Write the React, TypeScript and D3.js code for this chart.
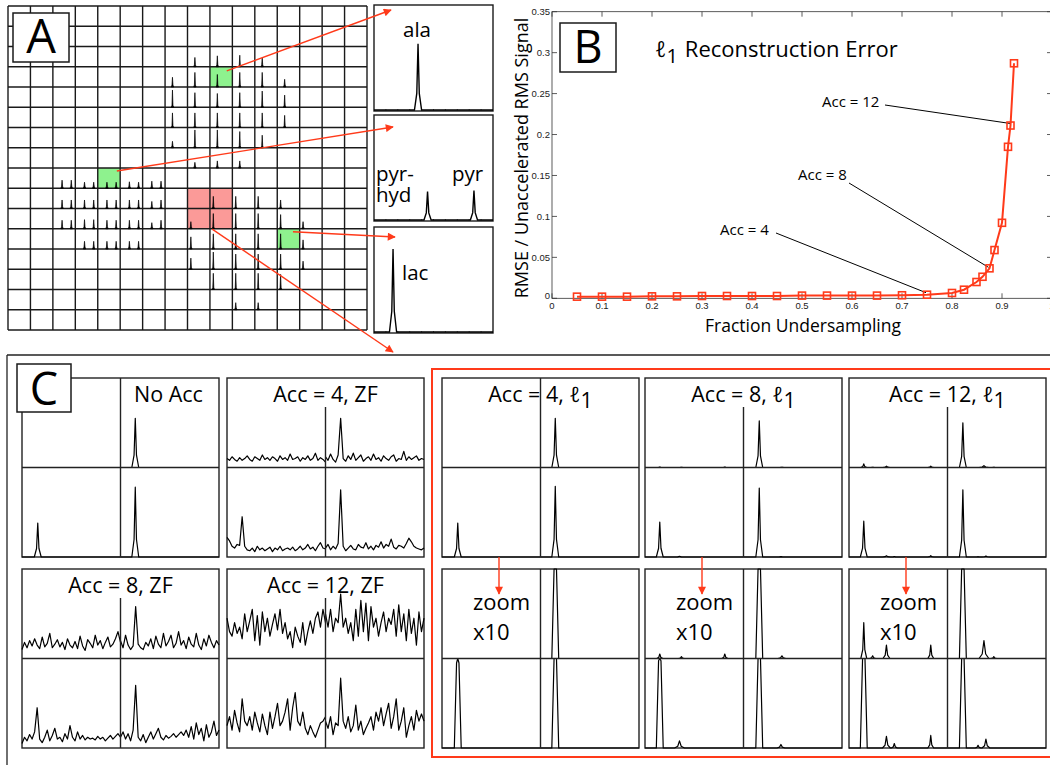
import React from 'react';
import * as d3 from 'd3';

const FONT = '"Open Sans", Lato, "DejaVu Sans", sans-serif';
const RED = '#ff3a1a';

// ---------- panel A: 16x16 voxel grid ----------
const gridN = 16;
const greenVoxels = [[9, 3], [4, 8], [12, 11]]; // [col, row]
const redVoxels = [[8, 9], [9, 9], [8, 10], [9, 10]];
// peak position inside a voxel (fraction of voxel width)
const alaPos = 0.33;
const pyrHydPos = 0.41;
const pyrPos = 0.82;
const lacPos = 0.15;
// [col, row, height]
const alaVoxels = [
  [8, 2, 0.46], [9, 2, 0.54], [10, 2, 0.57], [11, 2, 0.43],
  [7, 3, 0.48], [8, 3, 0.72], [9, 3, 0.62], [10, 3, 0.72], [11, 3, 0.72], [12, 3, 0.38],
  [7, 4, 0.85], [8, 4, 0.72], [9, 4, 0.68], [10, 4, 0.72], [11, 4, 0.8], [12, 4, 0.6],
  [7, 5, 0.72], [8, 5, 0.72], [9, 5, 0.72], [10, 5, 0.72], [11, 5, 0.72], [12, 5, 0.6],
  [7, 6, 0.32], [8, 6, 0.88], [9, 6, 0.88], [10, 6, 0.8], [11, 6, 0.62],
  [8, 7, 0.28], [9, 7, 0.35], [10, 7, 0.35],
];
// [col, row, pyr-hyd height, pyr height]
const pyrVoxels = [
  [2, 8, 0.4, 0.4], [3, 8, 0.3, 0.3], [4, 8, 0.3, 0.3], [5, 8, 0.32, 0.3], [6, 8, 0.35, 0.35],
  [2, 9, 0.42, 0.42], [3, 9, 0.42, 0.42], [4, 9, 0.42, 0.42], [5, 9, 0.42, 0.42], [6, 9, 0.35, 0.42],
  [2, 10, 0.42, 0.42], [3, 10, 0.45, 0.45], [4, 10, 0.42, 0.42], [5, 10, 0.42, 0.42], [6, 10, 0.3, 0.42],
  [3, 11, 0.38, 0.38], [4, 11, 0.38, 0.38], [5, 11, 0.38, 0.38],
];
const lacVoxels = [
  [9, 9, 0.6], [10, 9, 0.6], [11, 9, 0.6], [12, 9, 0.42],
  [8, 10, 0.35], [9, 10, 0.75], [10, 10, 0.75], [11, 10, 0.75], [12, 10, 0.7], [13, 10, 0.35],
  [8, 11, 0.6], [9, 11, 0.75], [10, 11, 0.75], [11, 11, 0.75], [12, 11, 0.75], [13, 11, 0.45],
  [8, 12, 0.55], [9, 12, 0.85], [10, 12, 0.75], [11, 12, 0.75], [12, 12, 0.75], [13, 12, 0.4],
  [9, 13, 0.8], [10, 13, 0.8], [11, 13, 0.8], [12, 13, 0.75],
  [10, 14, 0.35], [11, 14, 0.35],
];
// inset spectra: [position, height, half width]
const alaSpectrum = [[0.37, 0.63, 0.03]];
const pyrSpectrum = [[0.45, 0.27, 0.03], [0.84, 0.28, 0.03]];
const lacSpectrum = [[0.16, 0.79, 0.03]];

// ---------- panel B: l1 reconstruction error ----------
const fractionUndersampling = [
  0.05, 0.1, 0.15, 0.2, 0.25, 0.3, 0.35, 0.4, 0.45, 0.5, 0.55, 0.6, 0.65, 0.7, 0.75,
  0.8, 0.824, 0.849, 0.861, 0.875, 0.885, 0.9, 0.912, 0.917, 0.924,
];
const rmseRatio = [
  0.002, 0.002, 0.002, 0.0024, 0.0024, 0.0028, 0.0028, 0.0028, 0.0028, 0.0033, 0.0033,
  0.0033, 0.0033, 0.0037, 0.0044, 0.0065, 0.0105, 0.0199, 0.0263, 0.0366, 0.0589, 0.0922,
  0.185, 0.211, 0.287,
];
const xTickValues = [0, 0.1, 0.2, 0.3, 0.4, 0.5, 0.6, 0.7, 0.8, 0.9, 1];
const yTickValues = [0, 0.05, 0.1, 0.15, 0.2, 0.25, 0.3, 0.35];
const annotations = [
  { label: 'Acc = 4', point: 14 },
  { label: 'Acc = 8', point: 19 },
  { label: 'Acc = 12', point: 23 },
];

// ---------- panel C: spectra of 4 voxels (TL, TR, BL, BR) ----------
const noAccPeaks = [[], [[0.15, 0.55, 0.035]], [[0.16, 0.38, 0.035]], [[0.15, 0.78, 0.035]]];
const zfAcc4 = [
  [0.10, 0.08, 0.12, 0.09, 0.07, 0.11, 0.08, 0.10, 0.13, 0.09, 0.07, 0.12, 0.10, 0.08, 0.14, 0.09, 0.11, 0.08, 0.12, 0.10, 0.07, 0.13, 0.09, 0.11, 0.08, 0.15, 0.09, 0.10, 0.12, 0.07, 0.11, 0.09, 0.13, 0.08, 0.10, 0.16, 0.08, 0.11, 0.09, 0.06],
  [0.12, 0.08, 0.15, 0.09, 0.06, 0.14, 0.55, 0.10, 0.07, 0.13, 0.09, 0.16, 0.08, 0.11, 0.14, 0.07, 0.10, 0.12, 0.08, 0.15, 0.09, 0.11, 0.07, 0.13, 0.10, 0.08, 0.12, 0.14, 0.07, 0.10, 0.09, 0.18, 0.08, 0.12, 0.09, 0.11, 0.13, 0.08, 0.10, 0.09],
  [0.22, 0.18, 0.12, 0.10, 0.14, 0.13, 0.45, 0.12, 0.08, 0.07, 0.10, 0.06, 0.12, 0.08, 0.10, 0.07, 0.09, 0.11, 0.06, 0.10, 0.08, 0.12, 0.07, 0.09, 0.10, 0.08, 0.11, 0.07, 0.09, 0.12, 0.08, 0.10, 0.14, 0.09, 0.11, 0.07, 0.12, 0.16, 0.10, 0.09],
  [0.10, 0.14, 0.08, 0.12, 0.09, 0.15, 0.75, 0.12, 0.07, 0.10, 0.13, 0.09, 0.08, 0.14, 0.11, 0.10, 0.16, 0.09, 0.12, 0.08, 0.13, 0.11, 0.17, 0.10, 0.14, 0.12, 0.20, 0.11, 0.09, 0.13, 0.12, 0.10, 0.15, 0.21, 0.17, 0.12, 0.10, 0.09, 0.08, 0.10],
];
const zfAcc8 = [
  [0.10, 0.18, 0.12, 0.20, 0.14, 0.22, 0.15, 0.11, 0.24, 0.13, 0.17, 0.28, 0.12, 0.16, 0.21, 0.13, 0.18, 0.10, 0.22, 0.15, 0.12, 0.19, 0.11, 0.25, 0.14, 0.09, 0.21, 0.17, 0.12, 0.26, 0.15, 0.20, 0.11, 0.18, 0.24, 0.13, 0.16, 0.22, 0.30, 0.18],
  [0.20, 0.12, 0.26, 0.15, 0.10, 0.14, 0.58, 0.16, 0.12, 0.10, 0.18, 0.14, 0.22, 0.11, 0.25, 0.16, 0.12, 0.28, 0.14, 0.19, 0.26, 0.12, 0.17, 0.30, 0.15, 0.20, 0.11, 0.24, 0.16, 0.13, 0.28, 0.15, 0.10, 0.22, 0.14, 0.26, 0.18, 0.12, 0.20, 0.15],
  [0.05, 0.12, 0.08, 0.15, 0.10, 0.18, 0.45, 0.10, 0.06, 0.12, 0.20, 0.08, 0.14, 0.22, 0.10, 0.12, 0.07, 0.16, 0.10, 0.25, 0.12, 0.08, 0.18, 0.10, 0.14, 0.09, 0.12, 0.10, 0.11, 0.09, 0.13, 0.10, 0.12, 0.08, 0.11, 0.14, 0.10, 0.13, 0.16, 0.12],
  [0.12, 0.18, 0.10, 0.16, 0.08, 0.20, 0.70, 0.12, 0.08, 0.15, 0.06, 0.12, 0.18, 0.10, 0.16, 0.22, 0.12, 0.09, 0.14, 0.11, 0.13, 0.16, 0.12, 0.15, 0.18, 0.14, 0.20, 0.12, 0.24, 0.10, 0.28, 0.15, 0.22, 0.08, 0.26, 0.12, 0.18, 0.30, 0.14, 0.20],
];
const zfAcc12 = [
  [0.45, 0.30, 0.25, 0.40, 0.28, 0.35, 0.22, 0.50, 0.30, 0.42, 0.55, 0.20, 0.48, 0.15, 0.52, 0.30, 0.45, 0.25, 0.38, 0.50, 0.32, 0.55, 0.28, 0.40, 0.22, 0.30, 0.12, 0.35, 0.25, 0.18, 0.40, 0.15, 0.30, 0.42, 0.28, 0.45, 0.52, 0.35, 0.55, 0.40],
  [0.50, 0.35, 0.55, 0.30, 0.45, 0.40, 0.72, 0.35, 0.45, 0.28, 0.40, 0.20, 0.55, 0.25, 0.65, 0.30, 0.62, 0.20, 0.58, 0.35, 0.45, 0.25, 0.40, 0.52, 0.30, 0.45, 0.38, 0.55, 0.25, 0.60, 0.30, 0.50, 0.20, 0.55, 0.28, 0.45, 0.15, 0.52, 0.30, 0.45],
  [0.25, 0.35, 0.20, 0.42, 0.28, 0.18, 0.55, 0.30, 0.25, 0.35, 0.20, 0.40, 0.28, 0.18, 0.38, 0.25, 0.15, 0.40, 0.22, 0.35, 0.50, 0.25, 0.30, 0.40, 0.55, 0.20, 0.45, 0.62, 0.30, 0.25, 0.40, 0.22, 0.15, 0.25, 0.18, 0.12, 0.20, 0.28, 0.30, 0.35],
  [0.30, 0.22, 0.35, 0.15, 0.28, 0.25, 0.78, 0.30, 0.22, 0.35, 0.18, 0.25, 0.48, 0.20, 0.30, 0.15, 0.22, 0.28, 0.35, 0.20, 0.40, 0.30, 0.45, 0.25, 0.38, 0.50, 0.22, 0.35, 0.55, 0.20, 0.30, 0.45, 0.12, 0.25, 0.35, 0.20, 0.42, 0.30, 0.38, 0.30],
];
const l1Acc4 = [[], [[0.15, 0.55, 0.035]], [[0.16, 0.38, 0.035]], [[0.15, 0.79, 0.035]]];
const l1Acc8 = [
  [[0.15, 0.005, 0.03], [0.37, 0.002, 0.03], [0.81, 0.005, 0.03]],
  [[0.16, 0.52, 0.035], [0.39, 0.003, 0.04]],
  [[0.15, 0.39, 0.035], [0.35, 0.008, 0.05]],
  [[0.16, 0.77, 0.035], [0.38, 0.004, 0.04]],
];
const l1Acc12 = [
  [[0.15, 0.04, 0.03], [0.24, 0.003, 0.03], [0.38, 0.015, 0.035], [0.83, 0.015, 0.03]],
  [[0.156, 0.5, 0.035], [0.37, 0.02, 0.05], [0.47, 0.002, 0.03]],
  [[0.15, 0.4, 0.035], [0.38, 0.013, 0.04], [0.46, 0.005, 0.03], [0.83, 0.014, 0.03]],
  [[0.156, 0.75, 0.035], [0.31, 0.003, 0.03], [0.39, 0.01, 0.04]],
];
const zoomGain = 10;

// peak list -> polyline points in unit space
function peakPoints(peaks) {
  const pts = [[0, 0]];
  [...peaks].sort((a, b) => a[0] - b[0]).forEach(([p, h, w]) => {
    pts.push([p - w, 0], [p - w * 0.35, h * 0.25], [p, h], [p + w * 0.35, h * 0.25], [p + w, 0]);
  });
  pts.push([1, 0]);
  return pts;
}
function tracePoints(vals) {
  return vals.map((v, i) => [i / (vals.length - 1), v]);
}

function PanelA() {
  const x = d3.scaleLinear().domain([0, gridN]).range([8, 367]);
  const y = d3.scaleLinear().domain([0, gridN]).range([6, 330]);
  const spike = (c, r, p, h) => {
    const cx = x(c + p), by = y(r + 1), ty = y(r + 1 - h);
    return `M${cx - 1.2},${by}L${cx - 0.5},${by - 2}L${cx},${ty}L${cx + 0.5},${by - 2}L${cx + 1.2},${by}Z`;
  };
  const insetX = d3.scaleLinear().domain([0, 1]).range([374, 493]);
  const insets = [
    { top: 5, peaks: alaSpectrum },
    { top: 115, peaks: pyrSpectrum },
    { top: 227, peaks: lacSpectrum },
  ];
  const arrows = [
    { x1: x(9.75), y1: y(3.2), x2: 391, y2: 10 },
    { x1: x(4.85), y1: y(8.15), x2: 393, y2: 127 },
    { x1: x(12.7), y1: y(11.15), x2: 395, y2: 237 },
    { x1: x(9.1), y1: y(11.02), x2: 393, y2: 352 },
  ];
  return (
    <g>
      {greenVoxels.map(([c, r], i) => (
        <rect key={'g' + i} x={x(c)} y={y(r)} width={x(1) - x(0)} height={y(1) - y(0)} fill="#8ef28e" />
      ))}
      {redVoxels.map(([c, r], i) => (
        <rect key={'r' + i} x={x(c)} y={y(r)} width={x(1) - x(0)} height={y(1) - y(0)} fill="#fb9a98" />
      ))}
      {d3.range(gridN + 1).map((i) => (
        <g key={'l' + i} stroke="#1a1a1a" strokeWidth={1.4}>
          <line x1={x(i)} x2={x(i)} y1={y(0)} y2={y(gridN)} />
          <line x1={x(0)} x2={x(gridN)} y1={y(i)} y2={y(i)} />
        </g>
      ))}
      <g fill="#000" stroke="#000" strokeWidth={0.7}>
        {alaVoxels.map(([c, r, h], i) => <path key={'a' + i} d={spike(c, r, alaPos, h)} />)}
        {pyrVoxels.map(([c, r, h1, h2], i) => (
          <g key={'p' + i}>
            <path d={spike(c, r, pyrHydPos, h1)} />
            <path d={spike(c, r, pyrPos, h2)} />
          </g>
        ))}
        {lacVoxels.map(([c, r, h], i) => <path key={'c' + i} d={spike(c, r, lacPos, h)} />)}
      </g>
      <rect x={13} y={13} width={56} height={49} fill="#fff" stroke="#1a1a1a" strokeWidth={1.5} />
      <text x={41} y={53} fontSize={47} textAnchor="middle">A</text>

      {insets.map((ins, k) => {
        const yy = d3.scaleLinear().domain([0, 1]).range([ins.top + 105, ins.top]);
        const ln = d3.line().x((d) => insetX(d[0])).y((d) => yy(d[1]));
        return (
          <g key={'ins' + k}>
            <rect x={374} y={ins.top} width={119} height={106} fill="#fff" stroke="#1a1a1a" strokeWidth={1.4} />
            {d3.range(1, 10).map((t) => (
              <line key={t} x1={insetX(t / 10)} x2={insetX(t / 10)} y1={ins.top + 106} y2={ins.top + 104} stroke="#444" strokeWidth={0.8} />
            ))}
            <path d={ln(peakPoints(ins.peaks))} fill="none" stroke="#000" strokeWidth={1.4} />
          </g>
        );
      })}
      <text x={417} y={37} fontSize={20.5} textAnchor="middle">ala</text>
      <text x={376} y={181} fontSize={20.5}>pyr-</text>
      <text x={376} y={202} fontSize={20.5}>hyd</text>
      <text x={452} y={181} fontSize={20.5}>pyr</text>
      <text x={402} y={280} fontSize={20.5}>lac</text>

      {arrows.map((a, i) => (
        <line key={'ar' + i} x1={a.x1} y1={a.y1} x2={a.x2} y2={a.y2} stroke={RED} strokeWidth={1.4} markerEnd="url(#arrowRed)" />
      ))}
    </g>
  );
}

function PanelB() {
  const x = d3.scaleLinear().domain([0, 1]).range([552, 1052]);
  const y = d3.scaleLinear().domain([0, 0.35]).range([298.3, 11.7]);
  const line = d3.line<number>().x((_, i) => x(fractionUndersampling[i])).y((d) => y(d));
  const fmt = (v) => String(+v.toFixed(2));
  const annPos = [
    { tx: 720, ty: 235, lx: 776, ly: 233, dx: -1, dy: -2 },
    { tx: 798, ty: 180, lx: 849, ly: 183, dx: -1, dy: -1 },
    { tx: 822, ty: 107, lx: 885, ly: 105, dx: 0, dy: -2 },
  ];
  return (
    <g>
      <rect x={x(0)} y={y(0.35)} width={x(1) - x(0)} height={y(0) - y(0.35)} fill="none" stroke="#333" strokeWidth={0.8} />
      {xTickValues.map((t) => (
        <g key={'xt' + t} stroke="#333" strokeWidth={0.8}>
          <line x1={x(t)} x2={x(t)} y1={y(0)} y2={y(0) - 5} />
          <line x1={x(t)} x2={x(t)} y1={y(0.35)} y2={y(0.35) + 5} />
        </g>
      ))}
      {yTickValues.map((t) => (
        <g key={'yt' + t} stroke="#333" strokeWidth={0.8}>
          <line x1={x(0)} x2={x(0) + 5} y1={y(t)} y2={y(t)} />
          <line x1={x(1)} x2={x(1) - 5} y1={y(t)} y2={y(t)} />
        </g>
      ))}
      {xTickValues.map((t) => (
        <text key={'xl' + t} x={x(t)} y={y(0) + 11} fontSize={9.5} textAnchor="middle" fontFamily="'Liberation Sans', Arial, sans-serif" fill="#222">{fmt(t)}</text>
      ))}
      {yTickValues.map((t) => (
        <text key={'yl' + t} x={x(0) - 2} y={y(t) + (t === 0 ? 1 : 3.5)} fontSize={9.5} textAnchor="end" fontFamily="'Liberation Sans', Arial, sans-serif" fill="#222">{fmt(t)}</text>
      ))}
      <text x={803} y={332} fontSize={17.5} textAnchor="middle">Fraction Undersampling</text>
      <text transform="translate(528,158) rotate(-90)" fontSize={18} textAnchor="middle">RMSE / Unaccelerated RMS Signal</text>

      <rect x={560} y={23} width={56} height={49} fill="#fff" stroke="#1a1a1a" strokeWidth={1.5} />
      <text x={588} y={63} fontSize={45} textAnchor="middle">B</text>
      <text x={655} y={57} fontSize={22}>
        <tspan>ℓ</tspan><tspan dy={6} fontSize={20}>1</tspan><tspan dy={-6} dx={7}>Reconstruction Error</tspan>
      </text>

      {annotations.map((a, i) => {
        const p = annPos[i];
        return (
          <g key={a.label}>
            <text x={p.tx} y={p.ty} fontSize={15}>{a.label}</text>
            <line x1={p.lx} y1={p.ly} x2={x(fractionUndersampling[a.point]) + p.dx} y2={y(rmseRatio[a.point]) + p.dy} stroke="#000" strokeWidth={1} />
          </g>
        );
      })}

      <path d={line(rmseRatio)} fill="none" stroke={RED} strokeWidth={2} />
      {rmseRatio.map((v, i) => (
        <rect key={'m' + i} x={x(fractionUndersampling[i]) - 3.5} y={y(v) - 3.5} width={7} height={7} fill="none" stroke={RED} strokeWidth={1.6} />
      ))}
    </g>
  );
}

function SpectraBox({ x0, y0, w, h, quads, kind, gain = 1, lineTop = 0, title = null, titleX = null, titleAnchor = 'middle' }) {
  const qw = w / 2, qh = h / 2;
  const origins = [[x0, y0], [x0 + qw, y0], [x0, y0 + qh], [x0 + qw, y0 + qh]];
  return (
    <g>
      <rect x={x0} y={y0} width={w} height={h} fill="#fff" stroke="#222" strokeWidth={1.4} />
      {quads.map((q, k) => {
        const [qx, qy] = origins[k];
        const xs = d3.scaleLinear().domain([0, 1]).range([qx, qx + qw]);
        const ys = d3.scaleLinear().domain([0, 1]).range([qy + qh, qy]).clamp(true);
        const ln = d3.line().x((d) => xs(d[0])).y((d) => ys(d[1] * gain));
        const pts = kind === 'trace' ? tracePoints(q) : peakPoints(q);
        return <path key={k} d={ln(pts)} fill="none" stroke="#000" strokeWidth={1.2} strokeLinejoin="round" />;
      })}
      <line x1={x0} x2={x0 + w} y1={y0 + qh} y2={y0 + qh} stroke="#222" strokeWidth={1.4} />
      <line x1={x0 + qw} x2={x0 + qw} y1={y0 + lineTop} y2={y0 + h} stroke="#222" strokeWidth={1.4} />
      {title && (
        <text x={titleX ?? x0 + qw} y={y0 + 24} fontSize={21.5} textAnchor={titleAnchor}>{title}</text>
      )}
    </g>
  );
}

function L1Title({ acc }) {
  return (
    <>
      <tspan>{`Acc = ${acc}, ℓ`}</tspan>
      <tspan dy={6}>1</tspan>
    </>
  );
}

function PanelC() {
  const lw = 197, lh = 179;
  const rightX = [442, 645, 849];
  const l1Sets = [l1Acc4, l1Acc8, l1Acc12];
  const l1Accs = [4, 8, 12];
  return (
    <g>
      <line x1={7} y1={355} x2={1050} y2={355} stroke="#222" strokeWidth={1.3} />
      <line x1={7} y1={355} x2={7} y2={765} stroke="#222" strokeWidth={1.3} />
      <rect x={432} y={369} width={640} height={388} fill="none" stroke={RED} strokeWidth={2} />

      <SpectraBox x0={22} y0={378} w={lw} h={lh} quads={noAccPeaks} kind="peaks" title="No Acc" titleX={134} titleAnchor="start" />
      <SpectraBox x0={227} y0={378} w={lw} h={lh} quads={zfAcc4} kind="trace" lineTop={29} title="Acc = 4, ZF" />
      <SpectraBox x0={22} y0={569} w={lw} h={lh} quads={zfAcc8} kind="trace" lineTop={29} title="Acc = 8, ZF" />
      <SpectraBox x0={227} y0={569} w={lw} h={lh} quads={zfAcc12} kind="trace" lineTop={29} title="Acc = 12, ZF" />

      <rect x={17} y={364} width={54} height={48} fill="#fff" stroke="#1a1a1a" strokeWidth={1.5} />
      <text x={44} y={405} fontSize={45} textAnchor="middle">C</text>

      {rightX.map((rx, i) => (
        <g key={'l1' + i}>
          <SpectraBox x0={rx} y0={378} w={lw} h={lh} quads={l1Sets[i]} kind="peaks" lineTop={i === 0 ? 0 : 29} />
          <text x={rx + lw / 2} y={402} fontSize={21.5} textAnchor="middle"><L1Title acc={l1Accs[i]} /></text>
          <SpectraBox x0={rx} y0={569} w={lw} h={lh} quads={l1Sets[i]} kind="peaks" gain={zoomGain} />
          <text x={rx + 31} y={610} fontSize={22}>zoom</text>
          <text x={rx + 31} y={640} fontSize={22}>x10</text>
          <line x1={rx + 57} y1={557} x2={rx + 57} y2={594} stroke={RED} strokeWidth={1.4} markerEnd="url(#arrowRed)" />
        </g>
      ))}
    </g>
  );
}

export default function App() {
  return (
    <svg width={1050} height={765} style={{ position: 'absolute', left: 0, top: 0, background: '#fff' }} fontFamily={FONT}>
      <defs>
        <marker id="arrowRed" viewBox="0 0 10 10" refX="9" refY="5" markerWidth={10} markerHeight={8} markerUnits="userSpaceOnUse" orient="auto">
          <path d="M0,0 L10,5 L0,10 Z" fill={RED} />
        </marker>
      </defs>
      <PanelA />
      <PanelB />
      <PanelC />
    </svg>
  );
}
